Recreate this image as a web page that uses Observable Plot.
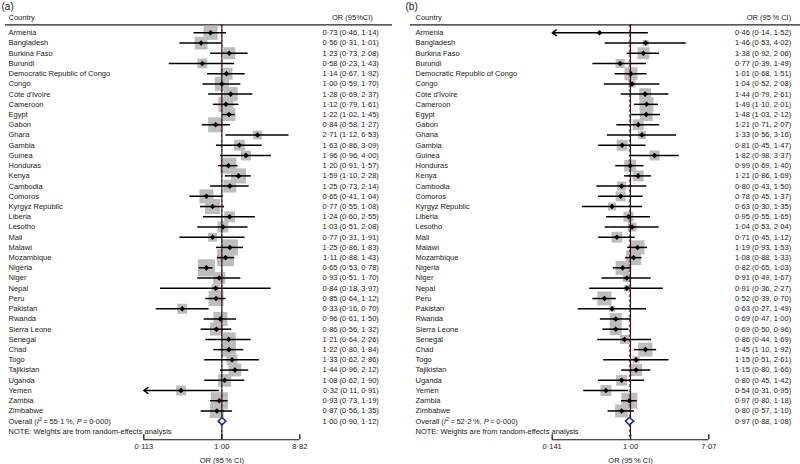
<!DOCTYPE html>
<html><head><meta charset="utf-8">
<script src="https://cdn.jsdelivr.net/npm/d3@7"></script>
<script src="https://cdn.jsdelivr.net/npm/@observablehq/plot@0.6"></script>
<style>
body{margin:0;background:#fff;}
#wrap{display:flex;width:800px;height:464px;overflow:hidden;}
#wrap svg{display:block;}
</style></head><body><div id="wrap"></div>
<script>
// ---------- Panel (a) data ----------
const countriesA = ["Armenia","Bangladesh","Burkina Faso","Burundi","Democratic Republic of Congo","Congo","Côte d'Ivoire","Cameroon","Egypt","Gabon","Ghara","Gambia","Guinea","Honduras","Kenya","Cambodia","Comoros","Kyrgyz Republic","Liberia","Lesotho","Mali","Malawi","Mozambique","Nigeria","Niger","Nepal","Peru","Pakistan","Rwanda","Sierra Leone","Senegal","Chad","Togo","Tajikistan","Uganda","Yemen","Zambia","Zimbabwe"];
const orA = [0.73,0.56,1.23,0.58,1.14,1.00,1.28,1.12,1.22,0.84,2.71,1.63,1.96,1.20,1.59,1.25,0.65,0.77,1.24,1.03,0.77,1.25,1.11,0.65,0.93,0.84,0.85,0.33,0.96,0.86,1.21,1.22,1.33,1.44,1.08,0.32,0.93,0.87];
const loA = [0.46,0.31,0.73,0.23,0.67,0.59,0.69,0.79,1.02,0.58,1.12,0.86,0.96,0.91,1.10,0.73,0.41,0.55,0.60,0.51,0.31,0.86,0.88,0.53,0.51,0.18,0.64,0.16,0.61,0.56,0.64,0.80,0.62,0.96,0.62,0.11,0.73,0.56];
const hiA = [1.14,1.01,2.08,1.43,1.92,1.70,2.37,1.61,1.45,1.27,6.53,3.09,4.00,1.57,2.28,2.14,1.04,1.08,2.55,2.08,1.91,1.83,1.43,0.78,1.70,3.97,1.12,0.70,1.50,1.32,2.26,1.84,2.86,2.12,1.90,0.91,1.19,1.35];
const weightA = [3.0,2.5,2.2,1.5,2.2,3.0,3.0,3.4,2.5,3.4,1.2,1.8,1.5,3.9,3.4,2.5,3.0,3.4,1.8,1.8,1.2,3.9,4.4,4.4,2.2,1.0,3.4,1.5,3.0,2.5,3.0,3.0,1.8,2.5,2.5,1.5,4.4,3.0];
const overallA = [1.00,0.90,1.12];
const hetA = ["55·1","0·000"];
const ticksA = [0.113,1,8.82];
const tickLabelsA = ["0·113","1·00","8·82"];

// ---------- Panel (b) data ----------
const countriesB = ["Armenia","Bangladesh","Burkina Faso","Burundi","Democratic Republic of Congo","Congo","Côte d'Ivoire","Cameroon","Egypt","Gabon","Ghana","Gambia","Guinea","Honduras","Kenya","Cambodia","Comoros","Kyrgyz Republic","Liberia","Lesotho","Mali","Malawi","Mozambique","Nigeria","Niger","Nepal","Peru","Pakistan","Rwanda","Sierra Leone","Senegal","Chad","Togo","Tajikistan","Uganda","Yemen","Zambia","Zimbabwe"];
const orB = [0.46,1.46,1.38,0.77,1.01,1.04,1.44,1.49,1.48,1.21,1.33,0.81,1.82,0.99,1.21,0.80,0.78,0.63,0.95,1.04,0.71,1.19,1.08,0.82,0.91,0.91,0.52,0.63,0.69,0.69,0.86,1.45,1.15,1.15,0.80,0.54,0.97,0.80];
const loB = [0.14,0.53,0.92,0.39,0.68,0.52,0.79,1.10,1.03,0.71,0.56,0.45,0.98,0.69,0.86,0.43,0.45,0.30,0.55,0.53,0.45,0.93,0.88,0.65,0.49,0.36,0.39,0.27,0.47,0.50,0.44,1.10,0.51,0.80,0.45,0.31,0.80,0.57];
const hiB = [1.52,4.02,2.06,1.49,1.51,2.08,2.61,2.01,2.12,2.07,3.16,1.47,3.37,1.40,1.69,1.50,1.37,1.35,1.65,2.04,1.12,1.53,1.33,1.03,1.67,2.27,0.70,1.49,1.00,0.96,1.69,1.92,2.61,1.66,1.42,0.95,1.18,1.10];
const weightB = [0.2,0.8,3.1,1.8,3.7,1.1,3.1,4.3,3.7,2.6,1.4,2.6,2.2,3.1,2.6,1.8,2.2,1.4,2.2,1.8,2.6,4.3,4.9,4.3,1.4,0.8,4.3,0.8,3.1,3.1,1.8,4.3,1.1,3.1,2.6,2.6,5.6,3.7];
const overallB = [0.97,0.88,1.08];
const hetB = ["52·2","0·000"];
const ticksB = [0.141,1,7.07];
const tickLabelsB = ["0·141","1·00","7·07"];

// ---------- shared layout ----------
const FONT = '"Liberation Sans", Arial, Helvetica, sans-serif';
const ROW0 = 32.3, ROWSTEP = 10.22;
const TITLE_ROW = -2.57, HEAD_ROW = -1.45, HEAD_RULE_ROW = -0.78;
const AXIS_ROW = 39.82, TICK_TOP_ROW = 39.33, TICKLAB_ROW = 40.45, AXTITLE_ROW = 41.85;
const fmt = v => v.toFixed(2).replace(".", "·");

function panel(cfg) {
  const n = cfg.countries.length;
  const data = cfg.countries.map((c, i) => ({
    country: c, row: i, or: cfg.or[i], lo: cfg.lo[i], hi: cfg.hi[i], w: cfg.w[i],
    label: `${fmt(cfg.or[i])} (${fmt(cfg.lo[i])}, ${fmt(cfg.hi[i])})`
  }));
  const xmin = cfg.ticks[0], xmax = cfg.ticks[cfg.ticks.length - 1];
  const inside = data.filter(d => d.lo >= xmin);
  const clipped = data.filter(d => d.lo < xmin);
  const [oOR, oLo, oHi] = cfg.overall;
  const oRow = n, noteRow = n + 1;
  const diamond = [
    {x: oLo, y: oRow}, {x: oOR, y: oRow - 0.36}, {x: oHi, y: oRow},
    {x: oOR, y: oRow + 0.36}, {x: oLo, y: oRow}
  ];
  const W = 400;
  const L = cfg.frame[0], R = W - cfg.frame[1];
  const svg = Plot.plot({
    width: W, height: 464,
    marginLeft: L, marginRight: R, marginTop: 0, marginBottom: 0,
    style: {fontFamily: FONT, fontSize: "7.5px", color: "#1a1a1a", background: "white", overflow: "visible"},
    x: {type: "log", domain: [xmin, xmax], range: cfg.xRange, axis: null},
    y: {type: "linear", domain: [0, 1], range: [ROW0, ROW0 + ROWSTEP], axis: null},
    r: {type: "sqrt", domain: [0, 1], range: [0, cfg.boxK]},
    marks: [
      // panel title
      Plot.text([cfg.title], {frameAnchor: "left", y: () => TITLE_ROW, dx: cfg.titleX - L, text: d => d, textAnchor: "start", fontSize: 10}),
      // headers
      Plot.text(["Country"], {frameAnchor: "left", y: () => HEAD_ROW, dx: cfg.labelX - L, text: d => d, textAnchor: "start"}),
      Plot.text([cfg.header], {frameAnchor: "right", y: () => HEAD_ROW, dx: -(W - R - cfg.headRight), text: d => d, textAnchor: "end"}),
      Plot.ruleY([HEAD_RULE_ROW], {stroke: "#222", strokeWidth: 1.1}),
      // weight boxes
      Plot.dot(data, {x: "or", y: "row", r: "w", symbol: "square", fill: "#bdbdbd", stroke: "none"}),
      // overall (dashed) and null lines
      Plot.ruleX([oOR], {y1: () => HEAD_RULE_ROW, y2: () => AXIS_ROW, stroke: "#a8323a", strokeWidth: 1, strokeDasharray: "3,2"}),
      Plot.ruleX([1], {y1: () => HEAD_RULE_ROW, y2: () => AXIS_ROW, stroke: "#111", strokeWidth: 1}),
      // confidence intervals
      Plot.ruleY(inside, {x1: "lo", x2: "hi", y: "row", stroke: "#000", strokeWidth: 1.5}),
      Plot.arrow(clipped, {x1: "hi", y1: "row", x2: () => xmin, y2: "row", stroke: "#000", strokeWidth: 1.5, headLength: 5, headAngle: 70, insetStart: 0, insetEnd: 0, bend: 0}),
      // point estimates
      Plot.dot(data, {x: "or", y: "row", r: 2.5, symbol: "diamond2", fill: "#000", stroke: "none"}),
      // overall diamond
      Plot.line(diamond, {x: "x", y: "y", stroke: "#1f2690", strokeWidth: 1.5, fill: "white", curve: "linear"}),
      // country labels and OR labels
      Plot.text(data, {frameAnchor: "left", y: "row", dx: cfg.labelX - L, text: "country", textAnchor: "start"}),
      Plot.text(data, {frameAnchor: "right", y: "row", dx: -(W - R - cfg.numRight), text: "label", textAnchor: "end"}),
      Plot.text(["OVERALL"], {frameAnchor: "left", y: () => oRow, dx: cfg.labelX - L, text: () => "Overall", textAnchor: "start", className: "overall-label"}),
      Plot.text([0], {frameAnchor: "right", y: () => oRow, dx: -(W - R - cfg.numRight), text: () => `${fmt(oOR)} (${fmt(oLo)}, ${fmt(oHi)})`, textAnchor: "end"}),
      Plot.text(["NOTE: Weights are from random-effects analysis"], {frameAnchor: "left", y: () => noteRow, dx: cfg.labelX - L, text: d => d, textAnchor: "start"}),
      // x axis
      Plot.ruleY([AXIS_ROW], {x1: () => xmin, x2: () => xmax, stroke: "#111", strokeWidth: 1.1}),
      Plot.ruleX(cfg.ticks, {x: d => d, y1: () => TICK_TOP_ROW, y2: () => AXIS_ROW, stroke: "#111", strokeWidth: 1.3}),
      Plot.text(cfg.ticks, {x: d => d, y: () => TICKLAB_ROW, text: (d, i) => cfg.tickLabels[i]}),
      Plot.text(["OR (95\u2009% CI)"], {x: () => 1, y: () => AXTITLE_ROW, text: d => d})
    ]
  });
  // rich text for the overall heterogeneity label
  const t = d3.select(svg).selectAll("g.overall-label text, .overall-label text");
  t.each(function() {
    const el = d3.select(this);
    el.text(null);
    el.append("tspan").text("Overall (");
    el.append("tspan").attr("font-style", "italic").text("I");
    el.append("tspan").attr("dy", "-3").attr("font-size", "5.5px").text("2");
    el.append("tspan").attr("dy", "3").text(`\u2009=\u2009${cfg.het[0]}\u2009%, `);
    el.append("tspan").attr("font-style", "italic").text("P");
    el.append("tspan").text(`\u2009=\u2009${cfg.het[1]})`);
  });
  return svg;
}

const wrap = document.getElementById("wrap");
wrap.appendChild(panel({
  title: "(a)", countries: countriesA, or: orA, lo: loA, hi: hiA, w: weightA,
  overall: overallA, het: hetA, ticks: ticksA, tickLabels: tickLabelsA,
  header: "OR (95%CI)", titleX: 1, labelX: 8, frame: [5, 392], numRight: 378.3, headRight: 372.3,
  xRange: [143.3, 299.3], boxK: 4.59
}));
wrap.appendChild(panel({
  title: "(b)", countries: countriesB, or: orB, lo: loB, hi: hiB, w: weightB,
  overall: overallB, het: hetB, ticks: ticksB, tickLabels: tickLabelsB,
  header: "OR (95\u2009% CI)", titleX: 5, labelX: 15, frame: [10, 400], numRight: 390.7, headRight: 390.7,
  xRange: [151.7, 308.3], boxK: 3.82
}));
</script></body></html>
